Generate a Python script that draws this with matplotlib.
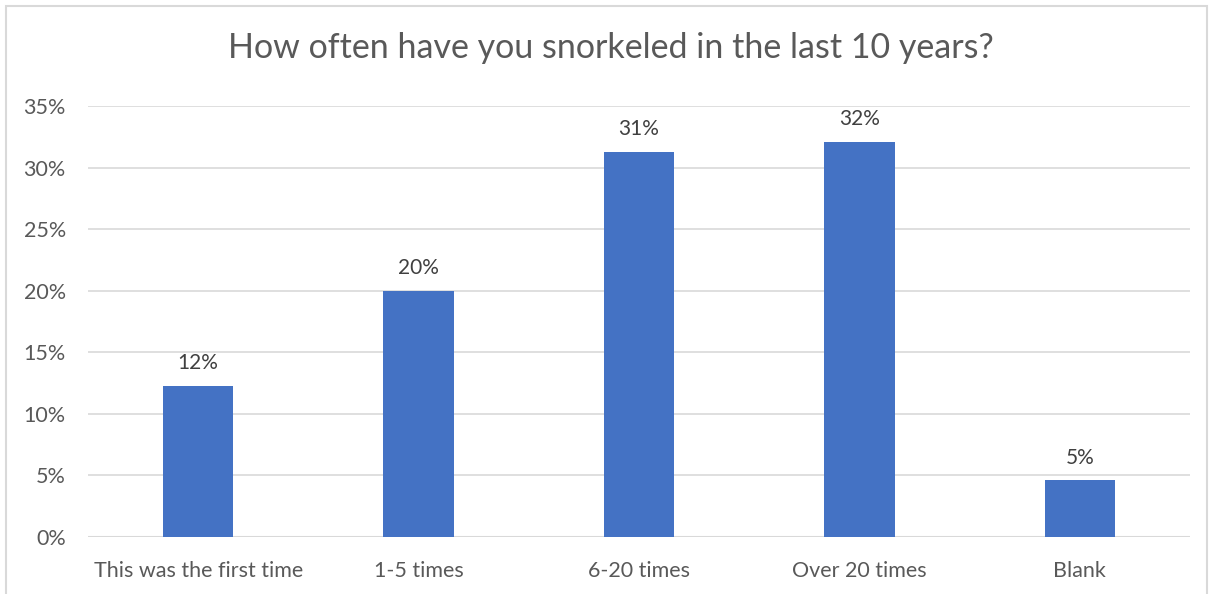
import matplotlib
matplotlib.use("Agg")
import matplotlib.pyplot as plt
from matplotlib.patches import Rectangle
from matplotlib.ticker import PercentFormatter

categories = ["This was the first time", "1-5 times", "6-20 times", "Over 20 times", "Blank"]
shares = [12.3, 20.0, 31.3, 32.1, 4.6]
y_ticks = [0, 5, 10, 15, 20, 25, 30, 35]
title = "How often have you snorkeled in the last 10 years?"

plt.rcParams['font.family'] = ['Lato', 'DejaVu Sans']

W, H = 1215, 594
fig = plt.figure(figsize=(W / 100, H / 100), dpi=100)
fig.patch.set_facecolor("white")

# outer chart frame
fig.patches.append(Rectangle((6 / W, -0.05), (1207 - 6) / W, 1.05 - 6 / H,
                             transform=fig.transFigure, fill=False,
                             edgecolor="#d9d9d9", linewidth=1.5))

ax = fig.add_axes([88 / W, 1 - 537 / H, (1190 - 88) / W, (537 - 106) / H])
x = range(len(categories))
bars = ax.bar(x, shares, width=0.32, color="#4472C4", zorder=3)

ax.set_xlim(-0.5, len(categories) - 0.5)
ax.set_ylim(0, 35)
ax.set_yticks(y_ticks)
ax.yaxis.set_major_formatter(PercentFormatter(decimals=0))
ax.set_xticks(list(x))
ax.set_xticklabels(categories)
ax.tick_params(axis="both", length=0, labelsize=15.5, labelcolor="#595959")
ax.tick_params(axis="y", pad=16)
ax.tick_params(axis="x", pad=17)
ax.grid(axis="y", color="#d9d9d9", linewidth=1.2, zorder=0)
for s in ax.spines.values():
    s.set_visible(False)
ax.axhline(0, color="#d9d9d9", linewidth=1.5, zorder=2)

for b, v in zip(bars, shares):
    ax.annotate(f"{v:.0f}%", (b.get_x() + b.get_width() / 2, v),
                xytext=(0, 9), textcoords="offset points",
                ha="center", va="bottom", fontsize=15, color="#404040")

fig.text(0.503, 1 - 48 / H, title, ha="center", va="center",
         fontsize=24.5, color="#595959")

fig.savefig("out.png", dpi=100)
